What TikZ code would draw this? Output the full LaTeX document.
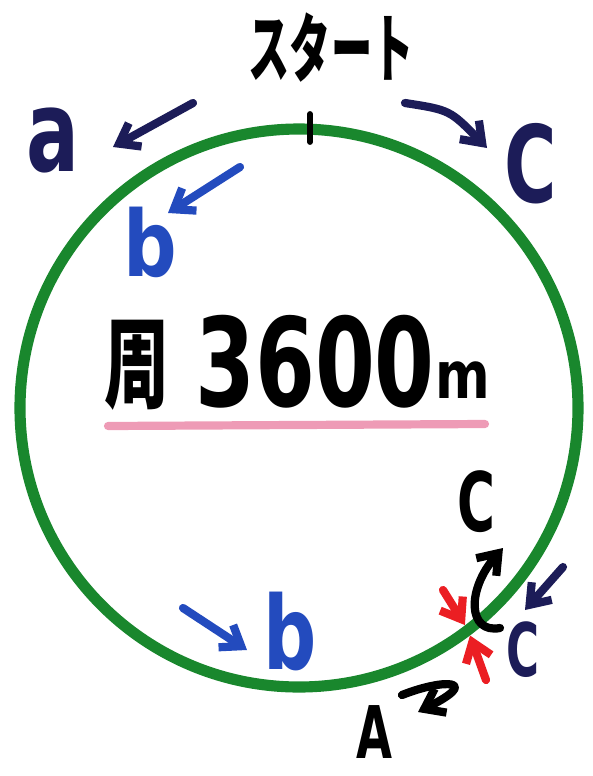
\documentclass[tikz,border=0pt]{standalone}
\usepackage{fontspec}
\setmainfont{DejaVu Sans}
\newfontfamily\cjk{Noto Sans CJK JP}
\usetikzlibrary{arrows.meta}

\definecolor{track}{RGB}{25,135,45}
\definecolor{navy}{RGB}{28,28,88}
\definecolor{penblue}{RGB}{35,75,190}
\definecolor{penred}{RGB}{235,30,35}
\definecolor{marker}{RGB}{238,155,182}

\tikzset{
  hand/.style={line width=7pt,line cap=round,line join=round},
  letter/.style={inner sep=0pt,font=\fontsize{#1}{#1}\selectfont\bfseries},
}

\begin{document}
\begin{tikzpicture}[x=0.03cm,y=-0.03cm,>={Straight Barb[length=5.5mm,width=8mm]}]

\useasboundingbox (0,0) rectangle (593,776);

% コース（周回）
\draw[track,line width=9.5pt] (299,408) circle (279);
\draw[line width=5pt,line cap=round] (310,114) -- (310,142);   % スタート地点

% スタート
\node[inner sep=0pt,xscale=0.55] (start) at (331,48) {\cjk\fontsize{64}{64}\selectfont\bfseries スタート};

% 上側：a, b, C の向き
\node[letter=97,navy,xscale=0.69] (a) at (53,140) {a};
\coordinate (a0) at (193,103);
\coordinate (a1) at (113,147);
\draw[hand,navy,->] (a0) -- (a1);

\node[letter=78,penblue,xscale=0.82] (b) at (150,242) {b};
\coordinate (b0) at (240,167);
\coordinate (b1) at (168,213);
\draw[hand,penblue,->] (b0) -- (b1);

\node[letter=91,navy,xscale=0.67] (c) at (531,164) {C};
\coordinate (c0) at (405,103);
\coordinate (c1) at (487,148);
\draw[hand,navy,->] (c0) .. controls (450,110) .. (c1);

% 周 3600m
\node[inner sep=0pt,xscale=0.65] (shu) at (137,365) {\cjk\fontsize{85}{85}\selectfont\bfseries 周};
\node[letter=105,xscale=0.7] (len) at (315,362) {3600};
\node[letter=56,xscale=0.8] (unit) at (463,380) {m};
\draw[marker,line width=7pt,line cap=round] (108,426) -- (485,424);

% 下側：b
\node[letter=87,penblue,xscale=0.73] (b2) at (290,631) {b};
\coordinate (b20) at (183,608);
\coordinate (b21) at (247,650);
\draw[hand,penblue,->] (b20) -- (b21);

% 出会う点
\coordinate (meet) at (468,630);
\coordinate (r1) at (443,590);
\coordinate (r2) at (486,680);
\draw[hand,penred,->,shorten >=5pt] (r1) -- (meet);
\draw[hand,penred,->,shorten >=5pt] (r2) -- (meet);

\node[letter=70,xscale=0.63] (c2) at (476,502) {C};
\coordinate (k0) at (500,628);
\coordinate (k1) at (503,548);
\draw[hand,->] (k0) .. controls (468,634) and (466,590) .. (k1);

\node[letter=63,navy,xscale=0.61] (c3) at (523,650) {C};
\coordinate (n0) at (563,567);
\coordinate (n1) at (525,610);
\draw[hand,navy,->] (n0) -- (n1);

\node[letter=62,xscale=0.64] (A) at (374,732) {A};
\coordinate (h0) at (402,695);
\coordinate (h1) at (418,712);
\draw[hand,->] (h0) .. controls (445,678) and (482,680) .. (h1);

\end{tikzpicture}
\end{document}
